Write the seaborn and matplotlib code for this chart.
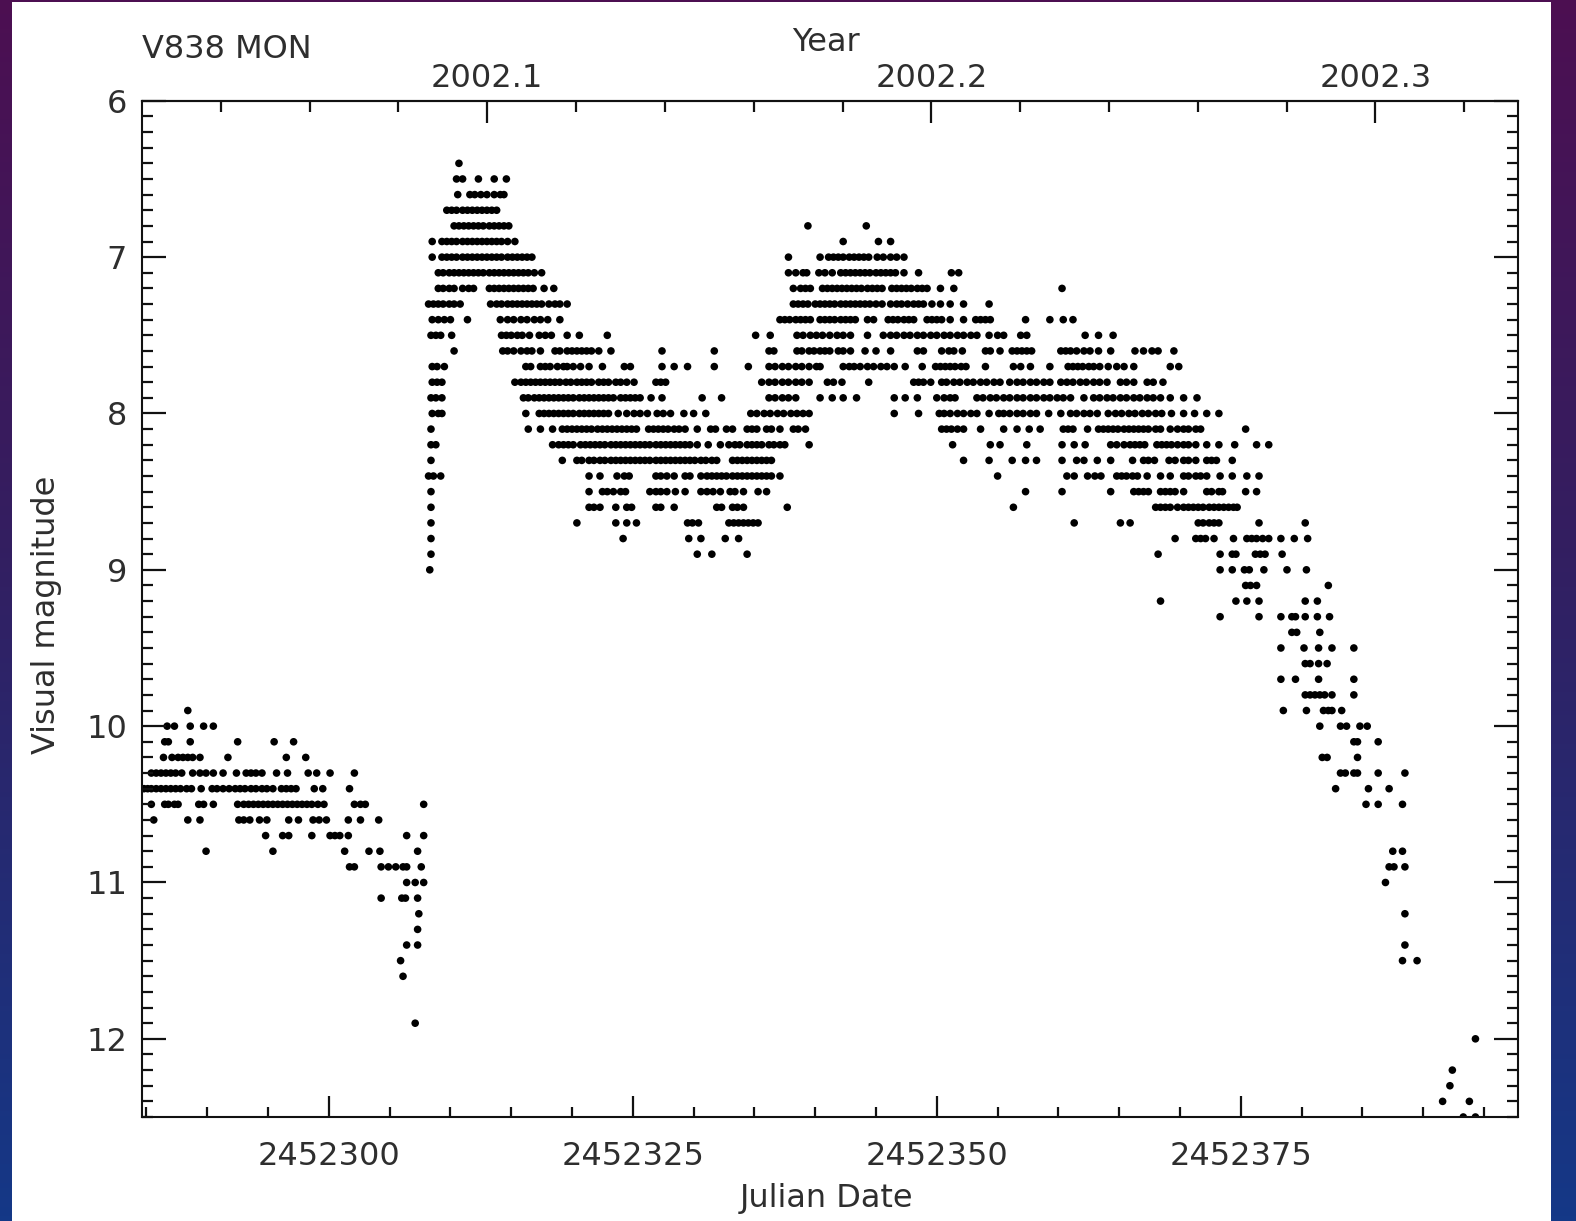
import numpy as np
import pandas as pd
import matplotlib
matplotlib.use("Agg")
import matplotlib.pyplot as plt
from matplotlib.ticker import MultipleLocator, FixedLocator, FormatStrFormatter, FuncFormatter
from matplotlib.patches import Rectangle
import seaborn as sns

# ---------------- data: V838 Mon visual estimates ----------------
JD_BASE = 2452300          # day offsets below are relative to this Julian Date
X_LIMITS = (2452284.6, 2452397.8)
Y_LIMITS = (12.5, 6.0)
TITLE = "V838 MON"
X_LABEL = "Julian Date"
Y_LABEL = "Visual magnitude"
TOP_LABEL = "Year"
YEAR_MAJOR = [2002.1, 2002.2, 2002.3]
YEAR_MINOR = [2002.04, 2002.06, 2002.08, 2002.12, 2002.14, 2002.16, 2002.18, 2002.22,
              2002.24, 2002.26, 2002.28, 2002.32]

# one list per magnitude row: days after JD 2452300
day_6_4 = [10.7]
day_6_5 = [10.5, 11.0, 12.3, 13.6, 14.6]
day_6_6 = [10.6, 11.6, 12.0, 12.5, 13.0, 13.6, 14.1, 14.4]
day_6_7 = [9.7, 10.1, 10.5, 11.0, 11.4, 11.8, 12.2, 12.6, 13.0, 13.4, 13.8]
day_6_8 = [10.3, 10.7, 11.1, 11.5, 11.9, 12.3, 12.7, 13.2, 13.6, 14.0, 14.4, 14.8, 39.4, 44.2]
day_6_9 = [8.5, 9.3, 9.7, 10.1, 10.5, 11.0, 11.4, 11.8, 12.2, 12.6, 13.0, 13.4, 13.8, 14.2, 14.7, 15.3,
           42.3, 45.2, 46.2]
day_7_0 = [8.5, 9.3, 9.7, 10.1, 10.5, 11.0, 11.4, 11.8, 12.2, 12.6, 13.0, 13.4, 13.8, 14.2, 14.7, 15.1,
           15.5, 15.9, 16.3, 16.7, 37.8, 40.4, 41.1, 41.5, 41.9, 42.3, 42.8, 43.2, 43.6, 44.0, 44.4, 45.1,
           45.6, 46.2, 46.7, 47.3]
day_7_1 = [9.0, 9.4, 9.9, 10.3, 10.7, 11.1, 11.5, 11.9, 12.3, 12.7, 13.2, 13.6, 14.0, 14.4, 14.8, 15.2,
           15.6, 16.0, 16.4, 16.9, 17.5, 37.8, 38.4, 39.0, 39.3, 40.3, 40.8, 41.4, 42.1, 42.5, 42.9, 43.3,
           43.7, 44.1, 44.5, 45.0, 45.4, 45.8, 46.2, 46.6, 47.3, 48.5, 51.2, 51.8]
day_7_2 = [9.0, 9.4, 9.9, 10.3, 11.0, 11.5, 11.9, 13.2, 13.6, 14.0, 14.4, 14.8, 15.2, 15.6, 16.0, 16.4,
           16.8, 17.7, 18.5, 38.2, 38.8, 39.2, 39.6, 40.6, 41.0, 41.4, 41.8, 42.2, 42.6, 43.0, 43.4, 43.8,
           44.3, 44.7, 45.1, 45.5, 46.3, 46.7, 47.1, 47.5, 47.9, 48.4, 48.8, 49.2, 50.3, 51.4, 60.3]
day_7_3 = [8.2, 8.6, 9.0, 9.4, 9.9, 10.3, 10.8, 13.3, 13.8, 14.2, 14.7, 15.1, 15.5, 15.9, 16.3, 16.7,
           17.1, 17.5, 18.1, 18.6, 19.0, 19.6, 38.2, 38.6, 39.0, 39.4, 40.0, 40.4, 40.8, 41.2, 41.6, 42.1,
           42.5, 42.9, 43.3, 43.7, 44.1, 44.5, 45.0, 45.5, 46.2, 46.7, 47.1, 47.6, 48.1, 48.5, 48.9, 49.6,
           50.3, 51.1, 52.2, 54.3]
day_7_4 = [8.5, 9.0, 9.5, 10.0, 11.4, 14.1, 14.7, 15.2, 15.8, 16.3, 16.9, 17.4, 18.0, 19.0, 37.1, 37.5,
           37.9, 38.4, 38.8, 39.2, 39.6, 40.4, 40.8, 41.2, 41.6, 42.1, 42.5, 42.9, 43.3, 44.3, 44.8, 46.0,
           46.4, 46.8, 47.3, 47.7, 48.1, 49.2, 49.6, 50.0, 50.4, 51.1, 52.2, 53.2, 53.6, 54.0, 54.4, 57.3,
           59.3, 60.4, 61.2]
day_7_5 = [8.4, 8.8, 9.2, 10.1, 14.2, 14.6, 15.0, 15.5, 15.9, 16.5, 17.3, 17.8, 18.3, 19.6, 20.6, 22.9,
           35.1, 36.3, 38.5, 39.0, 39.6, 40.1, 40.6, 41.2, 41.8, 42.3, 42.9, 44.3, 45.6, 46.2, 46.7, 47.3,
           47.8, 48.4, 48.9, 49.5, 50.0, 50.6, 51.1, 51.7, 52.2, 52.8, 53.3, 54.3, 55.0, 55.5, 56.9, 57.4,
           62.2, 63.3, 64.5]
day_7_6 = [10.3, 14.3, 14.7, 15.2, 15.8, 16.3, 16.7, 17.4, 18.6, 19.0, 19.6, 20.0, 20.4, 20.8, 21.2, 21.6,
           22.2, 23.2, 27.4, 31.7, 36.2, 36.6, 38.5, 38.9, 39.5, 39.9, 40.4, 40.8, 41.2, 41.9, 42.3, 42.9,
           44.1, 45.0, 46.2, 48.4, 48.9, 50.4, 51.0, 51.4, 52.1, 54.0, 54.4, 55.2, 56.2, 56.6, 57.0, 57.4,
           57.8, 60.2, 60.6, 61.0, 61.5, 62.1, 62.6, 63.3, 64.3, 66.3, 67.0, 67.7, 68.2, 69.5]
day_7_7 = [8.5, 8.9, 9.5, 16.2, 16.6, 17.4, 17.8, 18.2, 18.8, 19.3, 19.6, 20.1, 20.7, 21.4, 22.5, 24.3,
           24.8, 27.4, 28.4, 29.5, 31.7, 34.5, 36.2, 36.7, 37.3, 37.8, 38.4, 38.9, 39.5, 40.1, 40.4, 42.3,
           42.8, 43.2, 43.7, 44.3, 44.8, 45.4, 45.9, 46.5, 47.4, 48.8, 49.9, 50.3, 50.7, 51.1, 51.5, 52.0,
           52.4, 54.0, 56.3, 56.9, 57.7, 59.3, 60.8, 61.2, 61.6, 62.0, 62.5, 62.9, 63.4, 64.1, 64.8, 65.4,
           66.2, 69.2, 69.9]
day_7_8 = [8.5, 8.9, 9.3, 15.3, 15.8, 16.2, 16.6, 17.0, 17.4, 17.8, 18.2, 18.6, 19.0, 19.5, 19.9, 20.4,
           20.8, 21.2, 21.6, 22.2, 22.6, 23.0, 23.6, 24.0, 24.5, 25.1, 26.9, 27.3, 27.7, 35.6, 36.2, 36.7,
           37.3, 37.8, 38.4, 38.9, 39.5, 41.0, 41.5, 42.2, 44.4, 48.1, 48.5, 48.9, 49.5, 50.4, 50.8, 51.4,
           51.9, 52.5, 53.0, 53.6, 54.1, 54.7, 55.2, 56.0, 56.6, 57.1, 57.7, 58.2, 58.8, 59.3, 60.2, 60.7,
           61.2, 61.8, 62.3, 62.9, 63.4, 64.0, 65.1, 65.6, 66.2, 67.3, 67.8, 68.6]
day_7_9 = [8.4, 8.8, 9.3, 16.0, 16.4, 16.9, 17.3, 17.7, 18.1, 18.5, 18.9, 19.3, 19.7, 20.1, 20.6, 21.0,
           21.4, 21.8, 22.2, 22.6, 23.0, 23.4, 24.0, 24.4, 24.8, 25.2, 25.6, 26.5, 27.4, 30.7, 32.3, 36.2,
           36.7, 37.3, 37.8, 38.4, 40.4, 41.4, 42.3, 43.4, 46.5, 47.4, 48.4, 50.0, 50.6, 51.1, 51.5, 53.3,
           53.8, 54.4, 54.9, 55.5, 56.0, 56.6, 57.1, 57.7, 58.2, 58.8, 59.3, 59.9, 60.4, 61.0, 62.1, 62.9,
           63.4, 64.0, 64.5, 65.1, 65.6, 66.2, 66.7, 67.3, 67.8, 68.4, 69.2, 70.3, 71.4]
day_8_0 = [8.5, 9.0, 9.3, 16.2, 17.3, 17.7, 18.1, 18.5, 18.9, 19.3, 19.7, 20.1, 20.6, 21.0, 21.4, 21.8,
           22.2, 22.6, 23.0, 23.8, 24.5, 25.1, 25.6, 26.2, 27.0, 27.5, 28.1, 29.2, 30.0, 31.0, 34.7, 35.2,
           35.8, 36.3, 36.9, 37.4, 38.0, 38.5, 39.0, 39.5, 46.5, 48.5, 50.2, 50.6, 51.1, 51.7, 52.2, 52.8,
           53.3, 54.3, 55.1, 55.5, 56.0, 56.6, 57.1, 57.7, 58.2, 59.2, 60.2, 61.0, 61.5, 62.1, 62.6, 63.2,
           64.1, 64.7, 65.2, 65.8, 66.3, 66.9, 67.4, 68.0, 68.5, 69.3, 70.3, 71.2, 72.2, 73.2]
day_8_1 = [8.4, 16.4, 17.4, 18.4, 19.2, 19.6, 20.0, 20.4, 20.8, 21.2, 21.6, 22.1, 22.5, 22.9, 23.3, 23.7,
           24.1, 24.5, 24.9, 25.3, 26.3, 26.7, 27.1, 27.5, 27.9, 28.4, 28.8, 29.3, 30.3, 31.4, 31.8, 32.7,
           33.2, 34.4, 34.8, 35.2, 36.0, 36.4, 37.1, 38.2, 38.6, 39.2, 50.4, 50.8, 51.2, 51.7, 52.2, 53.6,
           55.5, 56.6, 57.6, 58.5, 60.4, 60.8, 61.2, 62.4, 63.3, 63.7, 64.1, 64.5, 64.9, 65.4, 65.8, 66.2,
           66.6, 67.0, 67.4, 68.0, 68.4, 69.2, 69.8, 70.3, 70.7, 71.3, 71.7, 75.4]
day_8_2 = [8.4, 8.8, 18.4, 18.9, 19.3, 19.7, 20.1, 20.7, 21.1, 21.5, 21.9, 22.3, 22.7, 23.2, 23.6, 24.0,
           24.4, 24.8, 25.2, 25.6, 26.0, 26.4, 26.9, 27.3, 27.7, 28.1, 28.5, 28.9, 29.3, 29.7, 30.3, 31.2,
           32.2, 32.9, 33.4, 33.8, 34.4, 34.8, 35.2, 35.6, 36.2, 36.6, 37.1, 37.5, 39.5, 51.3, 54.4, 55.2,
           57.4, 60.3, 61.3, 62.2, 64.3, 64.8, 65.4, 65.9, 66.3, 66.7, 67.1, 68.1, 68.5, 68.9, 69.3, 69.8,
           70.3, 70.7, 71.3, 72.2, 73.2, 74.5, 76.3, 77.3]
day_8_3 = [8.4, 19.2, 20.4, 20.8, 21.4, 21.8, 22.3, 22.7, 23.2, 23.6, 24.0, 24.4, 24.8, 25.2, 25.6, 26.0,
           26.4, 26.9, 27.3, 27.7, 28.1, 28.5, 28.9, 29.3, 29.7, 30.1, 30.6, 31.0, 31.5, 31.9, 33.2, 33.6,
           34.0, 34.4, 34.8, 35.2, 35.6, 36.0, 36.4, 52.2, 54.3, 56.2, 57.3, 58.2, 60.3, 61.5, 62.1, 63.2,
           64.3, 66.1, 67.0, 67.4, 67.9, 69.1, 69.6, 70.3, 70.7, 71.3, 72.2, 72.6, 73.0, 74.3]
day_8_4 = [8.2, 8.6, 9.2, 21.4, 22.3, 23.7, 24.3, 24.7, 26.9, 27.3, 27.8, 28.4, 29.3, 29.7, 30.6, 31.1,
           31.5, 31.9, 32.3, 32.7, 33.2, 33.6, 34.0, 34.4, 34.8, 35.2, 35.6, 36.0, 36.4, 37.1, 55.0, 60.7,
           61.3, 62.4, 63.0, 63.5, 64.8, 65.2, 65.6, 66.1, 66.5, 67.3, 68.4, 69.2, 70.3, 70.7, 71.3, 71.7,
           72.2, 73.3, 74.3, 75.5, 76.5]
day_8_5 = [8.4, 21.4, 22.5, 22.9, 23.4, 24.0, 24.4, 26.4, 26.9, 27.3, 27.8, 28.5, 29.3, 30.6, 31.1, 31.6,
           32.2, 33.0, 33.4, 34.1, 35.3, 36.0, 57.3, 60.3, 64.3, 66.2, 66.6, 67.0, 67.4, 68.4, 68.8, 69.2,
           69.6, 70.3, 72.2, 72.6, 73.2, 73.5, 75.4, 76.3]
day_8_6 = [8.4, 21.4, 21.8, 22.3, 23.6, 24.5, 24.9, 26.9, 27.3, 28.4, 31.9, 32.3, 33.2, 33.6, 34.1, 37.7,
           56.3, 68.0, 68.4, 68.8, 69.2, 69.8, 70.3, 70.7, 71.1, 71.5, 71.9, 72.4, 72.8, 73.2, 73.6, 74.0,
           74.4, 74.7]
day_8_7 = [8.4, 20.4, 23.6, 24.5, 25.3, 29.5, 29.9, 30.4, 32.9, 33.3, 33.7, 34.1, 34.5, 34.9, 35.3, 61.3,
           65.1, 65.9, 71.5, 71.9, 72.4, 72.8, 73.2, 76.5, 80.3]
day_8_8 = [8.4, 24.2, 29.6, 30.6, 32.6, 33.7, 69.6, 71.3, 71.7, 72.1, 72.8, 74.4, 75.5, 75.9, 76.3, 76.8,
           77.3, 78.3, 79.4, 80.5]
day_8_9 = [8.4, 30.3, 31.5, 34.4, 68.2, 73.3, 74.3, 74.6, 76.2, 76.6, 77.0, 78.4]
day_9_0 = [8.3, 73.3, 74.3, 75.3, 75.7, 76.9, 78.8, 80.4]
day_9_1 = [75.4, 75.8, 76.3, 82.2]
day_9_2 = [68.4, 74.6, 75.5, 76.5, 80.3, 81.3]
day_9_3 = [73.3, 76.5, 78.3, 79.2, 79.5, 80.3, 81.3, 82.3]
day_9_4 = [79.2, 79.6, 81.5]
day_9_5 = [78.3, 80.2, 81.4, 82.5, 84.3]
day_9_6 = [80.3, 80.7, 81.4, 82.1]
day_9_7 = [78.3, 79.5, 81.4, 84.3]
day_9_8 = [80.3, 80.7, 81.1, 81.5, 81.9, 82.5, 84.3]
day_9_9 = [-11.6, 78.5, 80.4, 81.8, 82.2, 82.5, 83.3]
day_10_0 = [-13.3, -12.7, -11.4, -10.3, -9.5, 81.5, 83.2, 83.7, 84.8, 85.4]
day_10_1 = [-13.5, -13.2, -11.4, -7.5, -4.5, -2.9, 84.3, 84.6, 86.3]
day_10_2 = [-13.6, -12.9, -12.4, -12.0, -11.6, -11.2, -10.6, -8.3, -3.5, -1.9, 81.7, 82.1, 84.6]
day_10_3 = [-14.6, -14.2, -13.8, -13.4, -13.0, -12.6, -12.1, -11.2, -10.6, -10.1, -9.5, -8.7, -7.6, -6.8,
            -6.4, -6.0, -5.5, -4.3, -3.4, -1.7, -1.0, 0.1, 2.1, 83.2, 83.6, 84.3, 84.6, 86.3, 88.5]
day_10_4 = [-15.2, -14.9, -14.6, -14.2, -13.8, -13.4, -13.0, -12.6, -12.2, -11.7, -11.3, -10.5, -9.6, -9.2,
            -8.7, -8.2, -7.7, -7.3, -6.9, -6.4, -6.0, -5.5, -5.1, -4.6, -3.9, -3.5, -3.1, -2.7, -1.2, -0.5,
            1.7, 82.8, 85.5, 87.2]
day_10_5 = [-14.6, -13.5, -13.2, -12.7, -12.4, -10.7, -10.3, -9.5, -7.5, -7.0, -6.6, -6.2, -5.8, -5.4,
            -5.0, -4.6, -4.2, -3.8, -3.4, -3.0, -2.6, -2.2, -1.8, -1.4, -0.9, -0.4, 2.1, 2.6, 3.0, 7.8,
            85.3, 86.3, 88.3]
day_10_6 = [-14.4, -11.6, -10.6, -7.4, -7.0, -6.5, -5.7, -5.1, -3.3, -2.5, -1.3, -0.8, -0.2, 1.6, 2.6, 4.1]
day_10_7 = [-5.2, -3.8, -3.3, -1.4, 0.1, 0.5, 0.9, 1.6, 6.4, 7.8]
day_10_8 = [-10.1, -4.6, 1.3, 3.3, 4.2, 7.3, 87.5, 88.3]
day_10_9 = [1.7, 2.1, 4.3, 4.9, 5.5, 6.1, 6.4, 7.6, 87.2, 87.6, 88.5]
day_11_0 = [6.4, 7.1, 7.8, 86.9]
day_11_1 = [4.3, 6.0, 6.3, 7.3]
day_11_2 = [7.4, 88.5]
day_11_3 = [7.3]
day_11_4 = [6.4, 7.3, 88.5]
day_11_5 = [5.9, 88.3, 89.5]
day_11_6 = [6.1]
day_11_9 = [7.1]
day_12_0 = [94.3]
day_12_2 = [92.4]
day_12_3 = [92.2]
day_12_4 = [91.6, 93.8]
day_12_5 = [93.3, 94.3]

ROWS = [
    (6.4, day_6_4), (6.5, day_6_5), (6.6, day_6_6), (6.7, day_6_7), (6.8, day_6_8), (6.9, day_6_9),
    (7.0, day_7_0), (7.1, day_7_1), (7.2, day_7_2), (7.3, day_7_3), (7.4, day_7_4), (7.5, day_7_5),
    (7.6, day_7_6), (7.7, day_7_7), (7.8, day_7_8), (7.9, day_7_9), (8.0, day_8_0), (8.1, day_8_1),
    (8.2, day_8_2), (8.3, day_8_3), (8.4, day_8_4), (8.5, day_8_5), (8.6, day_8_6), (8.7, day_8_7),
    (8.8, day_8_8), (8.9, day_8_9), (9.0, day_9_0), (9.1, day_9_1), (9.2, day_9_2), (9.3, day_9_3),
    (9.4, day_9_4), (9.5, day_9_5), (9.6, day_9_6), (9.7, day_9_7), (9.8, day_9_8), (9.9, day_9_9),
    (10.0, day_10_0), (10.1, day_10_1), (10.2, day_10_2), (10.3, day_10_3), (10.4, day_10_4),
    (10.5, day_10_5), (10.6, day_10_6), (10.7, day_10_7), (10.8, day_10_8), (10.9, day_10_9),
    (11.0, day_11_0), (11.1, day_11_1), (11.2, day_11_2), (11.3, day_11_3), (11.4, day_11_4),
    (11.5, day_11_5), (11.6, day_11_6), (11.9, day_11_9), (12.0, day_12_0), (12.2, day_12_2),
    (12.3, day_12_3), (12.4, day_12_4), (12.5, day_12_5),
]

jd_vals, mag_vals = [], []
for m, days in ROWS:
    for d in days:
        jd_vals.append(JD_BASE + d)
        mag_vals.append(m)
df = pd.DataFrame({"jd": jd_vals, "mag": mag_vals})

# ---------------- figure ----------------
W, H = 1576, 1221
TXT = "#2e2e2e"
plt.rcParams["font.family"] = ["DejaVu Sans"]
plt.rcParams["font.size"] = 23

fig = plt.figure(figsize=(W / 100, H / 100), dpi=100)

# slide background gradient + white panel
bg = fig.add_axes([0, 0, 1, 1], zorder=-10)
bg.set_axis_off()
stops = np.array([[0.00, 0.30, 0.06, 0.32],
                  [0.45, 0.20, 0.12, 0.38],
                  [1.00, 0.08, 0.22, 0.53]])
yy = np.linspace(0, 1, 256)
grad = np.stack([np.interp(yy, stops[:, 0], stops[:, k]) for k in (1, 2, 3)], axis=-1)
grad = np.repeat(grad[:, None, :], 2, axis=1)
bg.imshow(grad, aspect="auto", extent=[0, 1, 0, 1], origin="upper")
bg.add_patch(Rectangle((11.5 / W, 0), (1551 - 11.5) / W, (H - 2) / H,
                       transform=bg.transAxes, facecolor="white", edgecolor="none"))
bg.set_xlim(0, 1)
bg.set_ylim(0, 1)

ax_x0, ax_x1, ax_top, ax_bot = 141.6, 1518.0, 100.8, 1117.0
ax = fig.add_axes([ax_x0 / W, 1 - ax_bot / H, (ax_x1 - ax_x0) / W, (ax_bot - ax_top) / H])
ax.set_facecolor("white")

sns.scatterplot(data=df, x="jd", y="mag", ax=ax, color="black", s=30,
                linewidth=0, edgecolor="none", legend=False)

ax.set_xlim(*X_LIMITS)
ax.set_ylim(*Y_LIMITS)

for sp in ax.spines.values():
    sp.set_linewidth(1.5)
    sp.set_color("#111111")

ax.xaxis.set_major_locator(MultipleLocator(25))
ax.xaxis.set_minor_locator(MultipleLocator(5))
ax.xaxis.set_major_formatter(FuncFormatter(lambda v, p: f"{v:.0f}"))
ax.yaxis.set_major_locator(MultipleLocator(1))
ax.yaxis.set_minor_locator(MultipleLocator(0.1))
ax.yaxis.set_major_formatter(FormatStrFormatter("%d"))

ax.tick_params(axis="x", which="both", direction="in", top=False, bottom=True,
               colors="#111111", labelcolor=TXT, labelsize=23)
ax.tick_params(axis="x", which="major", length=15, width=1.6, pad=17)
ax.tick_params(axis="x", which="minor", length=7.5, width=1.6)
ax.tick_params(axis="y", which="both", direction="in", left=True, right=True,
               colors="#111111", labelcolor=TXT, labelsize=23)
ax.tick_params(axis="y", which="major", length=17, width=1.6, pad=10.5)
ax.tick_params(axis="y", which="minor", length=8, width=1.6)


def jd2yr(x):
    return 2002.0 + (np.asarray(x) - 2452276.5) / 365.25


def yr2jd(y):
    return 2452276.5 + (np.asarray(y) - 2002.0) * 365.25


sec = ax.secondary_xaxis("top", functions=(jd2yr, yr2jd))
sec.xaxis.set_major_locator(FixedLocator(YEAR_MAJOR))
sec.xaxis.set_minor_locator(FixedLocator(YEAR_MINOR))
sec.xaxis.set_major_formatter(FormatStrFormatter("%.1f"))
sec.spines["top"].set_linewidth(1.5)
sec.tick_params(axis="x", which="both", direction="in", colors="#111111",
                labelcolor=TXT, labelsize=23)
sec.tick_params(axis="x", which="major", length=16, width=1.6, pad=5)
sec.tick_params(axis="x", which="minor", length=8, width=1.6)


# axis labels (positions in the main axes' coordinates)
def ax_coords(px, py):
    return (px - ax_x0) / (ax_x1 - ax_x0), (ax_bot - py) / (ax_bot - ax_top)


ax.set_xlabel(X_LABEL, color=TXT, fontsize=23, va="baseline", ha="center")
ax.xaxis.set_label_coords(*ax_coords(826, 1207))
ax.set_ylabel(Y_LABEL, color=TXT, fontsize=23, va="center", ha="center")
ax.yaxis.set_label_coords(*ax_coords(46.5, 615))
sec.set_xlabel(TOP_LABEL, color=TXT, fontsize=23, va="baseline", ha="center")
sec.xaxis.set_label_coords(*ax_coords(826, 51), transform=ax.transAxes)

fig.text(142 / W, 1 - 58 / H, TITLE, color=TXT, fontsize=23, ha="left", va="baseline")

fig.savefig("out.png", dpi=100)
